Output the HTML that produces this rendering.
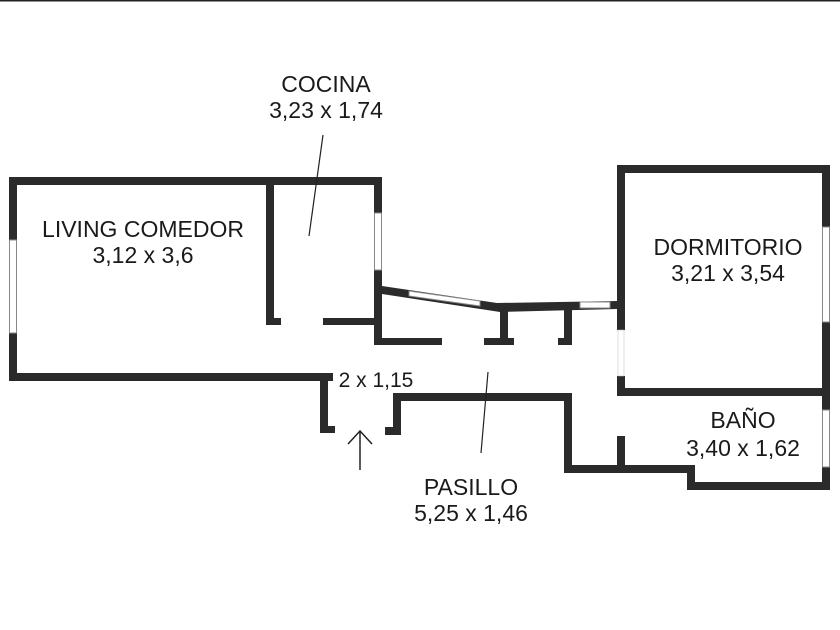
<!DOCTYPE html>
<html><head><meta charset="utf-8"><style>
html,body{margin:0;padding:0;background:#fff;}
svg{display:block;}
text{font-family:"Liberation Sans",sans-serif;font-size:23px;fill:#1a1a1a;text-anchor:middle;}
</style></head><body>
<svg width="840" height="630" viewBox="0 0 840 630" xmlns="http://www.w3.org/2000/svg">
<rect x="0" y="0" width="840" height="1.5" fill="#222"/>
<g fill="#2b2b2b">
<rect x="9" y="177" width="373" height="8"/>
<rect x="9" y="177" width="8" height="204"/>
<rect x="9" y="373" width="324" height="8"/>
<rect x="320" y="373" width="8" height="60"/>
<rect x="320" y="426" width="15" height="7"/>
<rect x="266" y="177" width="8" height="148"/>
<rect x="266" y="318" width="15" height="7"/>
<rect x="323" y="318" width="55" height="7"/>
<rect x="374" y="177" width="8" height="168"/>
<rect x="374" y="338" width="68" height="7"/>
<polygon points="382,286 497,303 617,301 617,309 500,312 382,294"/>
<rect x="500" y="306" width="8" height="39"/>
<rect x="484" y="338" width="30" height="7"/>
<rect x="564" y="306" width="8" height="39"/>
<rect x="558" y="338" width="14" height="7"/>
<rect x="617" y="165" width="213" height="8"/>
<rect x="617" y="165" width="8" height="165"/>
<rect x="617" y="376" width="8" height="20"/>
<rect x="822" y="165" width="8" height="325"/>
<rect x="617" y="388" width="213" height="8"/>
<rect x="687" y="482" width="143" height="8"/>
<rect x="687" y="465" width="8" height="25"/>
<rect x="564" y="465" width="131" height="8"/>
<rect x="617" y="436" width="8" height="32"/>
<rect x="564" y="393" width="8" height="80"/>
<rect x="393" y="393" width="179" height="8"/>
<rect x="393" y="393" width="8" height="42"/>
<rect x="385" y="427" width="16" height="8"/>
</g>
<g fill="#fff" stroke="#888" stroke-width="1">
<rect x="9.5" y="240" width="7" height="93"/>
<rect x="374.5" y="213" width="7" height="57"/>
<polygon points="409,291 480,301 480,306 409,296"/>
<rect x="580" y="302" width="30" height="6"/>
<rect x="822.5" y="227" width="7" height="95"/>
<rect x="822.5" y="410" width="7" height="57"/>
</g>
<rect x="618" y="330" width="6" height="46" fill="#fff" stroke="#bbb" stroke-width="0.5"/>
<line x1="323" y1="135" x2="309" y2="236" stroke="#222" stroke-width="1.2"/>
<line x1="488" y1="372" x2="481" y2="453" stroke="#222" stroke-width="1.2"/>
<line x1="360" y1="431" x2="360" y2="470" stroke="#222" stroke-width="1.5"/>
<polyline points="348,444 360,431 372,444" fill="none" stroke="#222" stroke-width="1.5"/>
<text x="326" y="92">COCINA</text>
<text x="326" y="118">3,23 x 1,74</text>
<text x="143" y="237">LIVING COMEDOR</text>
<text x="143" y="263">3,12 x 3,6</text>
<text x="728" y="255">DORMITORIO</text>
<text x="728" y="281">3,21 x 3,54</text>
<text x="743" y="428">BAÑO</text>
<text x="743" y="456">3,40 x 1,62</text>
<text x="471" y="495">PASILLO</text>
<text x="471" y="521">5,25 x 1,46</text>
<text x="376" y="387" style="font-size:21px">2 x 1,15</text>
</svg>
</body></html>
